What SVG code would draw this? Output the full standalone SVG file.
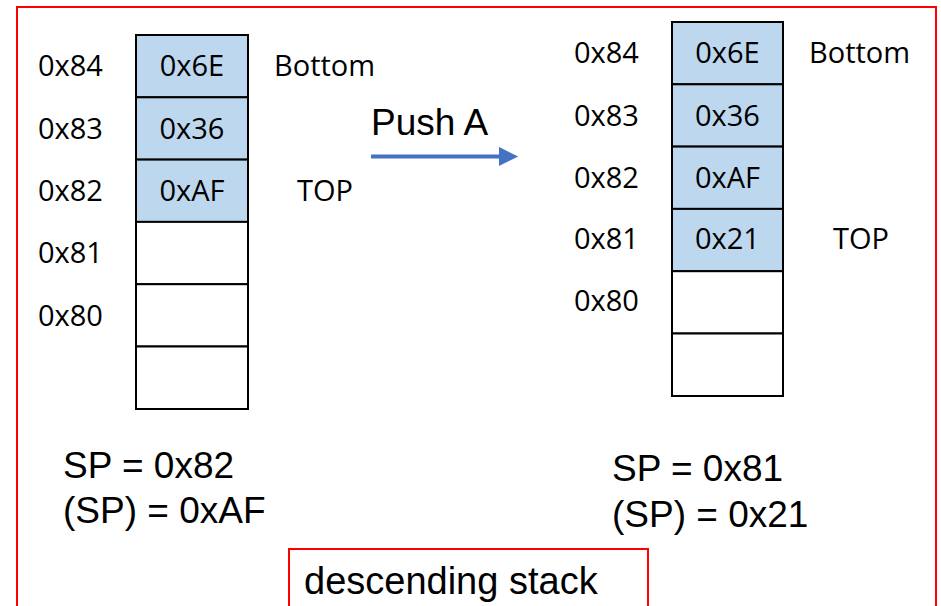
<svg xmlns="http://www.w3.org/2000/svg" width="941" height="606" viewBox="0 0 941 606">
  <style>
    .frame { fill: none; stroke: #ff0000; stroke-width: 2; }
    .cell { stroke: #000; stroke-width: 2; }
    .full { fill: #bdd7ee; }
    .empty { fill: #ffffff; }
    .lbl { font-family: "Open Sans", "Noto Sans", sans-serif; font-size: 29px; fill: #000; }
    .mid { text-anchor: middle; }
    .big { font-family: "Liberation Sans", Arial, sans-serif; font-size: 37px; fill: #000; }
  </style>
  <defs>
    <marker id="head" markerWidth="5" markerHeight="5" refX="0" refY="2.4" orient="auto" markerUnits="strokeWidth">
      <path d="M0,0 L4.8,2.4 L0,4.8 Z" fill="#4472c4"/>
    </marker>
  </defs>

  <rect width="941" height="606" fill="#ffffff"/>
  <rect class="frame" x="17" y="7" width="919" height="640"/>

  <!-- stack before the push -->
  <g id="stack-before">
    <rect class="cell full" x="136" y="35" width="112" height="62.3"/>
    <rect class="cell full" x="136" y="97.3" width="112" height="62.3"/>
    <rect class="cell full" x="136" y="159.6" width="112" height="62.3"/>
    <rect class="cell empty" x="136" y="221.9" width="112" height="62.3"/>
    <rect class="cell empty" x="136" y="284.2" width="112" height="62.3"/>
    <rect class="cell empty" x="136" y="346.5" width="112" height="62.5"/>
    <text class="lbl mid" x="192" y="76">0x6E</text>
    <text class="lbl mid" x="192" y="138.5">0x36</text>
    <text class="lbl mid" x="192" y="200.5">0xAF</text>
    <text class="lbl" x="38" y="76">0x84</text>
    <text class="lbl" x="38" y="138.5">0x83</text>
    <text class="lbl" x="38" y="200.5">0x82</text>
    <text class="lbl" x="38" y="263">0x81</text>
    <text class="lbl" x="38" y="325.5">0x80</text>
    <text class="lbl" x="274" y="76">Bottom</text>
    <text class="lbl" x="297" y="200.5">TOP</text>
  </g>

  <!-- stack after the push -->
  <g id="stack-after">
    <rect class="cell full" x="672" y="22" width="111" height="62.3"/>
    <rect class="cell full" x="672" y="84.3" width="111" height="62.3"/>
    <rect class="cell full" x="672" y="146.6" width="111" height="62.3"/>
    <rect class="cell full" x="672" y="208.9" width="111" height="62.3"/>
    <rect class="cell empty" x="672" y="271.2" width="111" height="62.3"/>
    <rect class="cell empty" x="672" y="333.5" width="111" height="62.5"/>
    <text class="lbl mid" x="727.5" y="63">0x6E</text>
    <text class="lbl mid" x="727.5" y="125.5">0x36</text>
    <text class="lbl mid" x="727.5" y="187.5">0xAF</text>
    <text class="lbl mid" x="727.5" y="249">0x21</text>
    <text class="lbl" x="574" y="63">0x84</text>
    <text class="lbl" x="574" y="125.5">0x83</text>
    <text class="lbl" x="574" y="187.5">0x82</text>
    <text class="lbl" x="574" y="249">0x81</text>
    <text class="lbl" x="574" y="311">0x80</text>
    <text class="lbl" x="809" y="63">Bottom</text>
    <text class="lbl" x="833" y="249">TOP</text>
  </g>

  <!-- push operation -->
  <g id="connectors">
    <line x1="371" y1="156.5" x2="499" y2="156.5" stroke="#4472c4" stroke-width="4" marker-end="url(#head)"/>
  </g>
  <g id="push-label">
    <text class="big" x="371" y="135" style="font-size:37px">Push A</text>
  </g>

  <!-- register states -->
  <g id="state-before">
    <text class="big" x="63" y="478">SP = 0x82</text>
    <text class="big" x="63" y="523">(SP) = 0xAF</text>
  </g>
  <g id="state-after">
    <text class="big" x="612" y="481">SP = 0x81</text>
    <text class="big" x="612" y="527">(SP) = 0x21</text>
  </g>

  <g id="caption">
    <rect class="frame" x="289" y="549" width="359" height="80"/>
    <text class="big" x="304" y="594" style="font-size:38px">descending stack</text>
  </g>
</svg>
